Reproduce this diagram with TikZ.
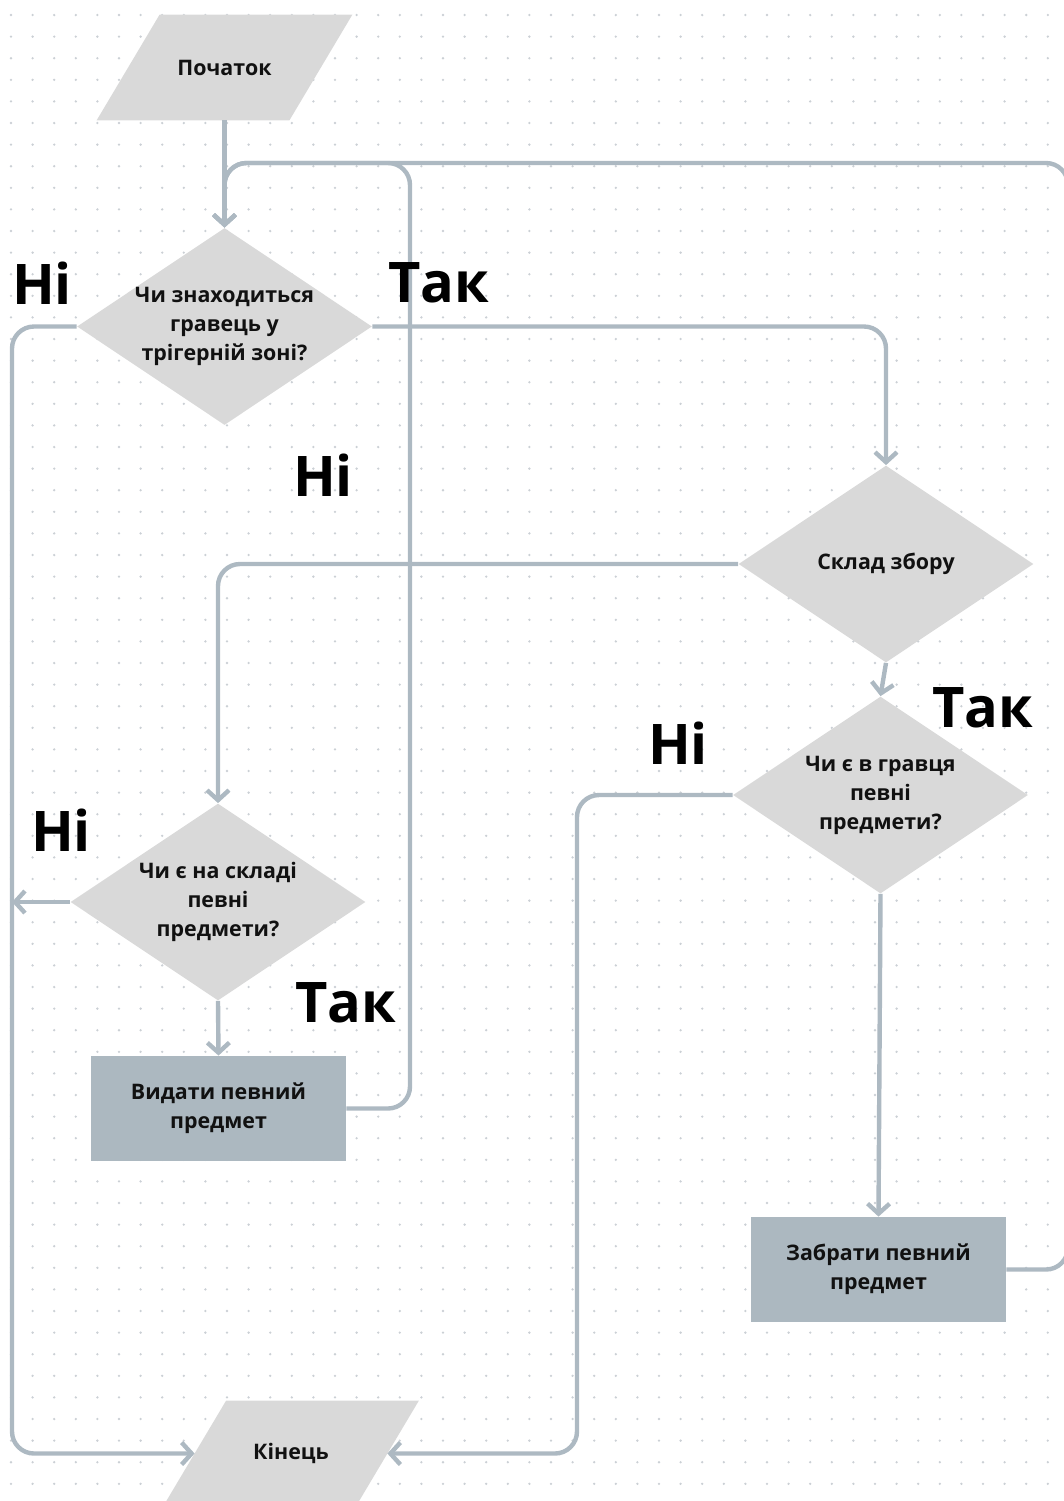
\documentclass[tikz,border=0pt]{standalone}
\usepackage{fontspec}
\setmainfont{Open Sans}
\usetikzlibrary{arrows.meta,calc,shapes.geometric,backgrounds}

\definecolor{linec}{HTML}{ADB9C2}
\definecolor{shapec}{HTML}{D9D9D9}
\definecolor{boxc}{HTML}{ACB8C0}
\definecolor{dotc}{HTML}{CBD0D5}
\definecolor{inkc}{HTML}{111111}

% slanted input/output block drawn behind a rectangular anchor node
\newcommand\ioshape[1]{%
  \fill[shapec] ($(#1.south west)+(-31.5,0)$) -- ($(#1.south east)+(-31.5,0)$)
    -- ($(#1.north east)+(31.5,0)$) -- ($(#1.north west)+(31.5,0)$) -- cycle;}

\tikzset{
  txt/.style={font=\fontsize{10.7pt}{14.5pt}\selectfont\bfseries, text=inkc, align=center},
  decision/.style={diamond, fill=shapec, inner sep=0pt,
    minimum width=147.5pt, minimum height=98.5pt},
  inside/.style={label={[txt]center:{#1}}},
  process/.style={rectangle, fill=boxc, inner sep=0pt, txt,
    minimum width=127.5pt, minimum height=52.5pt},
  io/.style={rectangle, inner sep=0pt, txt,
    minimum width=96pt, minimum height=52.5pt},
  tag/.style={font=\fontsize{28pt}{32pt}\selectfont\bfseries, text=black, inner sep=0pt},
  flow/.style={draw=linec, line width=2.2pt, rounded corners=11pt,
    -{Straight Barb[length=5pt,width=11pt]}},
}

\begin{document}
\begin{tikzpicture}[x=0.5pt,y=-0.5pt]
\useasboundingbox (0,0) rectangle (1064,1501);

% blocks
\node[io] (start) at (224.5,67.5) {Початок};
\node[decision, inside={Чи знаходиться\\гравець у\\трігерній зоні?}] (d1) at (224.5,326.5) {};
\node[decision, inside={Склад збору}] (d2) at (886,564) {};
\node[decision, inside={Чи є в гравця\\певні\\предмети?}] (d4) at (880.5,795) {};
\node[decision, inside={Чи є на складі\\певні\\предмети?}] (d3) at (218,902) {};
\node[process] (vyd) at (218.5,1108.5) {Видати певний\\предмет};
\node[process] (zab) at (878.5,1269.5) {Забрати певний\\предмет};
\node[io] (end) at (291,1453.5) {Кінець};

% routing rails
\coordinate (lx) at (12,0);
\coordinate (mx) at (577,0);
\coordinate (vx) at (410,0);
\coordinate (rx) at (1068,0);
\coordinate (top) at (0,163);

% connectors
\draw[flow] (start.south) -- (d1.north);
\draw[flow] (d1.east) -| (d2.north);
\draw[flow] (d1.west) -| (lx |- end.west) -- (end.west);
\draw[flow] (d3.west) -- (d3.west -| lx);
\draw[flow] (d2.west) -| (d3.north);
\draw[flow] (d2.south) -- (d4.north);
\draw[flow] (d4.west) -| (mx |- end.east) -- (end.east);
\draw[flow] (d4.south) -- (zab.north);
\draw[flow] (d3.south) -- (vyd.north);
\draw[flow] (vyd.east) -| (vx |- top) -| (d1.north);
\draw[flow] (zab.east) -| (rx |- top) -| (d1.north);

% branch labels
\node[tag] (t1) at (42,283) {Ні};
\node[tag] (t2) at (439,283) {Так};
\node[tag] (t3) at (323,475) {Ні};
\node[tag] (t4) at (983,708) {Так};
\node[tag] (t5) at (678,743) {Ні};
\node[tag] (t6) at (61,830) {Ні};
\node[tag] (t7) at (346,1003) {Так};

% dotted canvas and slanted blocks
\begin{scope}[on background layer]
  \foreach \gx in {11,32.6,...,1064}
    \foreach \gy in {15,36.6,...,1501}
      \fill[dotc] (\gx,\gy) circle[radius=0.65pt];
  \ioshape{start}
  \ioshape{end}
\end{scope}
\end{tikzpicture}
\end{document}
